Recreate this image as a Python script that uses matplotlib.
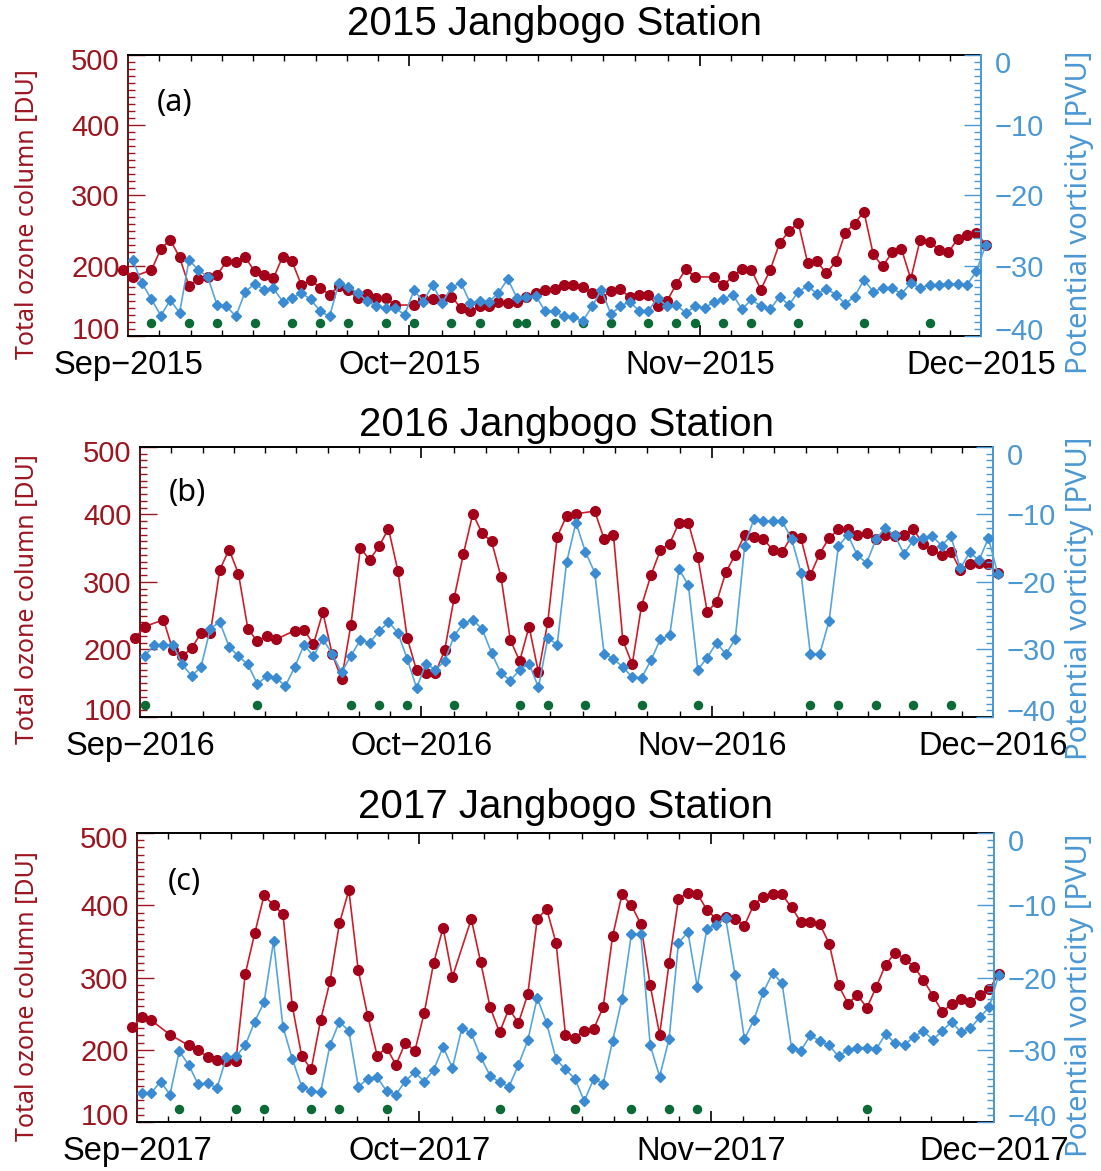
import matplotlib
matplotlib.use('Agg')
import numpy as np
import matplotlib.pyplot as plt
from matplotlib.transforms import ScaledTranslation

nan = np.nan

# daily values, index 0 = 31 Aug ... index 92 = 1 Dec (values at noon)
o3_2015 = [194, 184, nan, 194, 224, 237, 212, 171, 181, 184,
           187, 206, 205, 212, 192, 187, 182, 213, 206, 172,
           180, 168, 159, 171, 165, 154, 160, 154, 154, 144,
           nan, 144, 152, 152, 152, 156, 140, 135, 142, 142,
           149, 147, 149, 156, 161, 165, 167, 172, 173, 170,
           161, 154, 164, 167, 155, 159, 159, 142, 150, 174,
           195, 184, nan, 184, 172, 185, 195, 194, 166, 194,
           232, 249, 261, 204, 206, 189, 206, 247, 260, 277,
           216, 199, 219, 224, 181, 237, 234, 223, 219, 238,
           244, 247, 230]
pv_2015 = [nan, -29.2, -32.5, -34.8, -37.1, -34.9, -36.7, -29.2, -30.6, -31.6,
           -35.6, -35.8, -37.2, -33.7, -32.6, -33.4, -33.2, -35.1, -34.6, -33.9,
           -34.8, -36.5, -37.2, -32.4, -33.0, -33.9, -35.0, -35.8, -36.0, -36.0,
           -37.0, -33.5, -35.1, -32.7, -35.3, -33.1, -32.4, -35.3, -35.0, -35.1,
           -33.9, -31.9, -34.6, -34.4, -34.3, -36.5, -36.5, -37.2, -37.3, -37.9,
           -35.8, -33.4, -36.9, -35.8, -35.1, -36.4, -36.4, -34.6, -35.8, -35.6,
           -36.7, -35.8, -36.0, -35.2, -34.8, -34.1, -36.2, -34.8, -35.8, -36.2,
           -34.4, -35.6, -33.7, -32.9, -34.0, -33.3, -34.1, -35.4, -34.4, -32.0,
           -33.7, -33.2, -33.2, -34.0, -32.5, -33.2, -32.7, -32.7, -32.6, -32.6,
           -32.7, -30.8, -27.0]
green_2015 = [2, 6, 9, 13, 17, 20, 23, 27, 30, 34, 37, 41, 42, 45, 48, 51,
              55, 58, 60, 63, 66, 71, 78, 85]

o3_2016 = [217, 234, nan, 244, 199, 190, 202, 224, 224, 318,
           348, 312, 231, 212, 220, 215, nan, 228, 229, 208,
           255, 193, 156, 237, 350, 333, 353, 379, 317, 217,
           169, 165, 165, 199, 276, 342, 401, 372, 360, 308,
           214, 183, 234, 166, 241, 367, 398, 401, nan, 405,
           364, 370, 214, 178, 265, 310, 347, 357, 388, 387,
           337, 256, 270, 315, 340, 370, 367, 364, 347, 344,
           368, 365, 310, 342, 365, 378, 379, 369, 373, 364,
           370, 368, 370, 378, 357, 347, 340, 345, 318, 327,
           328, 327, 313]
pv_2016 = [nan, -30.9, -29.4, -29.3, -29.3, -32.2, -33.9, -32.6, -26.9, -25.9,
           -29.6, -31.0, -32.2, -35.1, -34.0, -34.2, -35.4, -32.6, -29.3, -31.0,
           -28.4, -30.7, -33.4, -30.9, -28.6, -29.0, -27.3, -25.9, -27.5, -31.4,
           -35.7, -32.1, -33.0, -31.7, -28.0, -26.1, -25.6, -27.0, -30.5, -33.5,
           -34.6, -33.0, -32.1, -35.6, -28.3, -29.3, -17.1, -11.2, -15.5, -18.6,
           -30.6, -31.4, -32.6, -34.1, -34.2, -31.6, -28.5, -27.9, -18.1, -20.5,
           -33.0, -31.2, -29.0, -30.7, -28.4, -14.6, -10.6, -11.0, -11.0, -11.0,
           -13.6, -18.6, -30.6, -30.7, -25.8, -14.7, -13.0, -16.0, -17.2, -13.7,
           -12.0, -13.1, -15.8, -13.8, -13.5, -13.2, -14.6, -13.2, -18.0, -15.6,
           -16.8, -13.5, -18.8]
green_2016 = [0, 12, 22, 25, 28, 33, 40, 43, 47, 53, 59, 71, 74, 78, 82, 86]

o3_2017 = [231, 245, 241, nan, 221, nan, 206, 200, 190, 186,
           184, 184, 305, 361, 414, 400, 388, 260, 191, 173,
           241, 295, 375, 421, 310, 247, 192, 203, 179, 210,
           198, 251, 320, 369, 301, nan, 381, 321, 259, 224,
           257, 237, 277, 381, 395, 348, 221, 217, 226, 229,
           259, 357, 415, 400, 374, 289, 221, 320, 409, 417,
           416, 394, 381, 384, 381, 372, 401, 412, 416, 415,
           397, 377, 377, 374, 347, 289, 264, 276, 258, 287,
           318, 334, 326, 315, 297, 275, 253, 263, 270, 266,
           276, 284, 305]
pv_2017 = [nan, -36.0, -36.0, -34.4, -36.2, -30.2, -32.1, -34.8, -34.6, -35.3,
           -31.0, -30.9, -29.4, -26.1, -23.4, -15.0, -26.8, -31.3, -35.1, -35.7,
           -35.9, -29.3, -26.1, -27.4, -35.1, -34.0, -33.8, -35.7, -36.2, -34.3,
           -33.1, -34.4, -32.8, -29.6, -32.5, -27.0, -27.7, -31.0, -33.6, -34.5,
           -35.1, -32.1, -28.7, -22.8, -26.3, -31.3, -32.7, -34.0, -37.1, -34.0,
           -34.7, -28.8, -23.0, -14.0, -14.0, -29.4, -33.7, -28.5, -15.2, -13.7,
           -21.3, -13.3, -12.7, -11.7, -19.6, -28.5, -25.9, -22.0, -19.4, -20.8,
           -29.7, -30.1, -28.0, -28.8, -29.4, -30.9, -30.0, -29.7, -29.7, -29.9,
           -27.8, -29.1, -29.3, -28.2, -27.4, -28.6, -27.4, -26.1, -27.6, -27.0,
           -25.5, -24.1, -19.6]
green_2017 = [4, 10, 13, 18, 21, 26, 38, 46, 52, 56, 59, 77]

green_level = 118          # DU, where the flag dots sit
month_days = [0, 30, 61, 91]   # Sep 1, Oct 1, Nov 1, Dec 1
month_names = ['Sep', 'Oct', 'Nov', 'Dec']

RED = '#a3001a'
RED_LINE = '#cc1f2a'
RED_TXT = '#9c1620'
BLUE = '#3a8bd2'
BLUE_LINE = '#55a6dc'
BLUE_TXT = '#4a98d4'
GREEN = '#0b6a35'
TICKFONT = 'Liberation Sans'
LABFONT = 'Noto Sans'
FIG_W = 1101.


def shift_label(lab, dy, fig):
    lab.set_transform(lab.get_transform() + ScaledTranslation(0, dy / 72., fig.dpi_scale_trans))


def plot_panel(fig, rect, o3, pv, green, year, tag, title_pad):
    ax = fig.add_axes(rect)
    days = np.arange(-1, 92) + 0.5
    o3 = np.array(o3, dtype=float)
    pv = np.array(pv, dtype=float)

    m = ~np.isnan(o3)
    ax.plot(days[m], o3[m], '-', color=RED_LINE, lw=1.2, zorder=3, clip_on=False)
    ax.plot(days[m], o3[m], 'o', ms=7, mfc=RED, mec=RED, zorder=4, clip_on=False)
    g = np.array(green) + 0.5
    ax.plot(g, [green_level] * len(g), 'o', ms=5.8, color=GREEN, zorder=4)

    ax.set_xlim(0, 91)
    ax.set_ylim(100, 500)

    # x axis: month ticks, 9 minor intervals per month
    ax.set_xticks(month_days)
    ax.set_xticklabels(['%s\u2212%d' % (mn, year) for mn in month_names],
                       fontsize=23.5, family=TICKFONT)
    minors = []
    for a, b in zip(month_days[:-1], month_days[1:]):
        minors += list(np.linspace(a, b, 10)[1:-1])
    ax.set_xticks(minors, minor=True)
    ax.tick_params(axis='x', which='both', direction='in', top=True, bottom=True)
    ax.tick_params(axis='x', which='major', length=8, width=1.2, pad=10)
    ax.tick_params(axis='x', which='minor', length=4, width=1)

    ax.set_yticks(range(100, 501, 100))
    ax.set_yticks(range(100, 501, 10), minor=True)
    ax.tick_params(axis='y', which='both', direction='in', color=RED_TXT, labelcolor=RED_TXT)
    ax.tick_params(axis='y', which='major', length=12, width=1, pad=6)
    ax.tick_params(axis='y', which='minor', length=5, width=1)
    for lab in ax.get_yticklabels():
        lab.set_fontsize(21)
        lab.set_family(TICKFONT)

    ax2 = ax.twinx()
    mp = ~np.isnan(pv)
    ax2.plot(days[mp], pv[mp], '-', color=BLUE_LINE, lw=1.2, zorder=3, clip_on=False)
    ax2.plot(days[mp], pv[mp], 'D', ms=5.2, mfc=BLUE, mec=BLUE, zorder=4, clip_on=False)
    ax2.set_ylim(-40, 0)
    ax2.set_yticks(range(-40, 1, 10))
    ax2.set_yticks(range(-40, 1, 1), minor=True)
    ax2.tick_params(axis='y', which='both', direction='in', color=BLUE_TXT, labelcolor=BLUE_TXT)
    ax2.tick_params(axis='y', which='major', length=12, width=1, pad=10)
    ax2.tick_params(axis='y', which='minor', length=5, width=1)
    for lab in ax2.get_yticklabels():
        lab.set_fontsize(21)
        lab.set_family(TICKFONT)

    for sp in ['top', 'bottom']:
        ax.spines[sp].set_linewidth(1.4)
        ax2.spines[sp].set_visible(False)
    ax.spines['left'].set_color('#5a1a1a')
    ax.spines['left'].set_linewidth(1.4)
    ax.spines['right'].set_visible(False)
    ax2.spines['left'].set_visible(False)
    ax2.spines['right'].set_color(BLUE_TXT)
    ax2.spines['right'].set_linewidth(1.4)

    # end labels sit a bit inside the axis, as in the original
    t1 = ax.yaxis.get_major_ticks()
    shift_label(t1[0].label1, 6, fig)
    shift_label(t1[-1].label1, -3, fig)
    t2 = ax2.yaxis.get_major_ticks()
    shift_label(t2[0].label2, 5, fig)
    shift_label(t2[-1].label2, -5, fig)

    ax.set_title('%d Jangbogo Station' % year, fontsize=29, family=TICKFONT, pad=title_pad)
    ax.text(0.055, 0.83, tag, transform=ax.transAxes, fontsize=22, family=LABFONT,
            ha='center', va='center')
    # axis titles placed at fixed figure x positions
    left_x = (28 - rect[0] * FIG_W) / (rect[2] * FIG_W)
    right_x = (1080 - rect[0] * FIG_W) / (rect[2] * FIG_W)
    ax.text(left_x, 0.435, 'Total ozone column [DU]', transform=ax.transAxes,
            rotation=90, ha='center', va='center', fontsize=18, family=LABFONT,
            color=RED_TXT)
    ax2.text(right_x, 0.44, 'Potential vorticity [PVU]', transform=ax.transAxes,
             rotation=90, ha='center', va='center', fontsize=21, family=LABFONT,
             color=BLUE_TXT, zorder=10)
    return ax, ax2


fig = plt.figure(figsize=(11.01, 11.71), dpi=100)
plot_panel(fig, [0.1163, 0.7131, 0.7748, 0.2400], o3_2015, pv_2015, green_2015, 2015, '(a)', 14)
plot_panel(fig, [0.1272, 0.3877, 0.7748, 0.2306], o3_2016, pv_2016, green_2016, 2016, '(b)', 8)
plot_panel(fig, [0.1244, 0.0418, 0.7784, 0.2468], o3_2017, pv_2017, green_2017, 2017, '(c)', 11)

fig.savefig('out.png', dpi=100)
